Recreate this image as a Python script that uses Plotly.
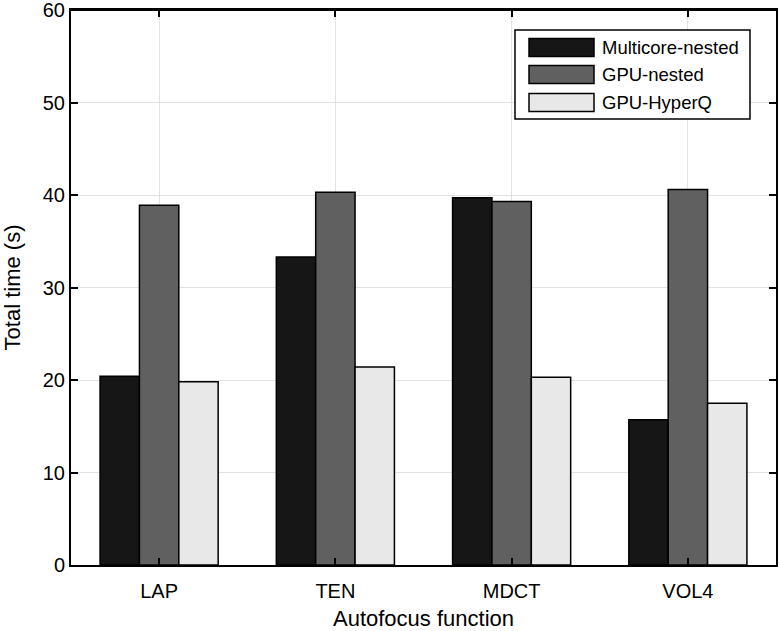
import plotly.graph_objects as go

categories = ["LAP", "TEN", "MDCT", "VOL4"]
series_names = ["Multicore-nested", "GPU-nested", "GPU-HyperQ"]
multicore_nested = [20.4, 33.3, 39.7, 15.7]
gpu_nested = [38.9, 40.3, 39.3, 40.6]
gpu_hyperq = [19.8, 21.4, 20.3, 17.5]
y_ticks = [0, 10, 20, 30, 40, 50, 60]

series_values = [multicore_nested, gpu_nested, gpu_hyperq]
colors = ["#161616", "#606060", "#e8e8e8"]

W, H = 780, 631
L, R, T, B = 71, 4, 10, 66
pw, ph = W - L - R, H - T - B

def px(x):
    return (x - L) / pw

def py(y):
    return (H - B - y) / ph

fig = go.Figure()
for name, vals, col in zip(series_names, series_values, colors):
    fig.add_trace(go.Bar(
        x=categories, y=vals, name=name,
        marker=dict(color=col, line=dict(color="black", width=1.5)),
        showlegend=False,
    ))

font_family = "Liberation Sans, Arial, sans-serif"

fig.update_layout(
    width=W, height=H,
    margin=dict(l=L, r=R, t=T, b=B),
    paper_bgcolor="white", plot_bgcolor="white",
    barmode="group", bargap=0.33, bargroupgap=0,
    font=dict(family=font_family, color="black"),
    xaxis=dict(
        title=dict(text="Autofocus function", font=dict(size=22), standoff=10),
        tickfont=dict(size=20), ticklabelstandoff=7,
        automargin=False, ticklabeloverflow="allow",
        showline=True, linecolor="black", linewidth=2, mirror="allticks",
        ticks="inside", ticklen=7, tickwidth=1.5, tickcolor="black",
        showgrid=True, gridcolor="#e2e2e2", gridwidth=1,
        range=[-0.5, 3.5],
    ),
    yaxis=dict(
        title=dict(text="Total time (s)", font=dict(size=22), standoff=17),
        tickfont=dict(size=20),
        automargin=False, ticklabeloverflow="allow",
        range=[0, 60], tickvals=y_ticks,
        showline=True, linecolor="black", linewidth=2, mirror="allticks",
        ticks="inside", ticklen=7, tickwidth=1.5, tickcolor="black",
        showgrid=True, gridcolor="#e2e2e2", gridwidth=1,
        zeroline=False,
    ),
)

# frame line at the top of the plot area
shapes = [dict(type="line", xref="paper", yref="paper", x0=0, x1=1, y0=1, y1=1,
               line=dict(color="black", width=2), layer="above")]
# Custom legend (wide swatches as in the reference)
shapes.append(dict(type="rect", xref="paper", yref="paper",
                   x0=px(515), x1=px(750), y0=py(119), y1=py(30),
                   line=dict(color="black", width=1.5), fillcolor="white", layer="above"))
annotations = []
row_centers = [47.5, 74.5, 102.5]
for name, col, yc in zip(series_names, colors, row_centers):
    shapes.append(dict(type="rect", xref="paper", yref="paper",
                       x0=px(529), x1=px(594), y0=py(yc + 9), y1=py(yc - 9),
                       line=dict(color="black", width=1.5), fillcolor=col, layer="above"))
    annotations.append(dict(xref="paper", yref="paper", x=px(600), y=py(yc),
                            text=name, showarrow=False, xanchor="left", yanchor="middle",
                            font=dict(size=18.5, family=font_family, color="black")))
fig.update_layout(shapes=shapes, annotations=annotations)

fig.write_html("out.html", config={"displayModeBar": False},
               post_script="document.body.style.margin='0';")
